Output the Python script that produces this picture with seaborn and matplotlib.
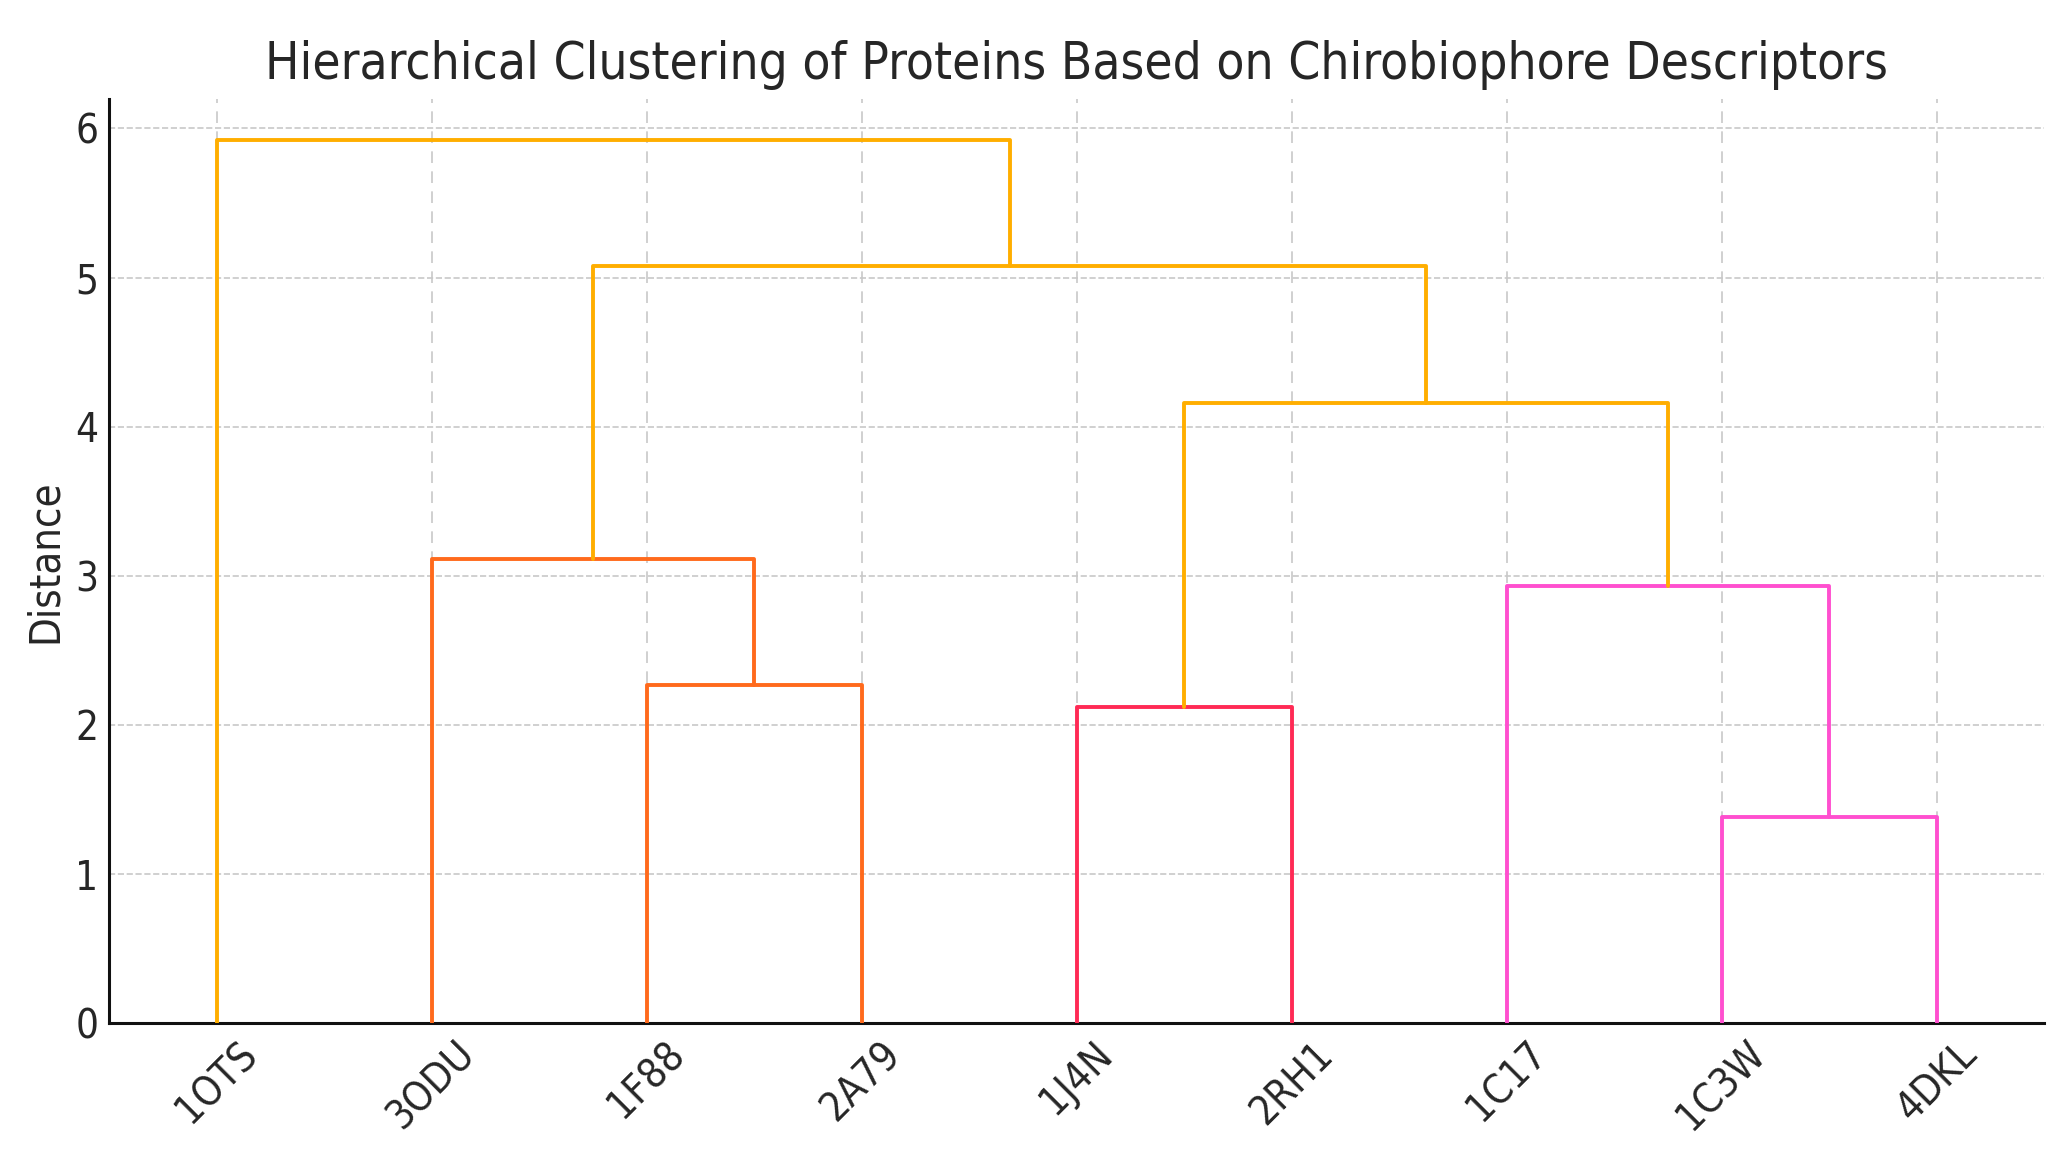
import numpy as np
import pandas as pd
import matplotlib
matplotlib.use("Agg")
import matplotlib.pyplot as plt
import seaborn as sns

# ---------------- data ----------------
labels = ["1OTS", "3ODU", "1F88", "2A79", "1J4N", "2RH1", "1C17", "1C3W", "4DKL"]
# linkage: (left node, right node, distance); leaves are 0..8, new nodes 9..16
merge_left = [7, 4, 2, 6, 1, 10, 13, 0]
merge_right = [8, 5, 3, 9, 11, 12, 14, 15]
merge_dist = [1.38, 2.12, 2.27, 2.93, 3.11, 4.16, 5.08, 5.92]
yticks = [0, 1, 2, 3, 4, 5, 6]

above_color = "#FFAE00"
cluster_colors = ["#FF6A1C", "#FF2A55", "#FF4FCF"]

title = "Hierarchical Clustering of Proteins Based on Chirobiophore Descriptors"
ylabel = "Distance"

# ---------------- style ----------------
sns.set_theme(style="white")
plt.rcParams["font.family"] = ["DejaVu Sans"]
plt.rcParams["font.stretch"] = "condensed"
text_color = "#262626"

fig = plt.figure(figsize=(20.65, 11.6), dpi=100)
ax = fig.add_axes([0.053, 0.118, 0.937, 0.797])

n = len(labels)
nodes = {}
for i in range(n):
    nodes[i] = {"children": None, "h": 0.0}
for k, (l, r, d) in enumerate(zip(merge_left, merge_right, merge_dist)):
    nodes[n + k] = {"children": (l, r), "h": d}
root = n + len(merge_dist) - 1

# leaf order (left to right)
order = []
def walk(node):
    ch = nodes[node]["children"]
    if ch is None:
        order.append(node)
    else:
        walk(ch[0]); walk(ch[1])
walk(root)
leaf_x = {leaf: 5 + 10 * i for i, leaf in enumerate(order)}

def xpos(node):
    ch = nodes[node]["children"]
    if ch is None:
        return leaf_x[node]
    return (xpos(ch[0]) + xpos(ch[1])) / 2.0

threshold = 0.7 * max(merge_dist)

# assign cluster colors to maximal sub-threshold subtrees left to right
node_color = {}
cidx = [0]
def color_walk(node, inherited=None):
    ch = nodes[node]["children"]
    if ch is None:
        return
    h = nodes[node]["h"]
    if inherited is None and h < threshold:
        inherited = cluster_colors[cidx[0] % len(cluster_colors)]
        cidx[0] += 1
    node_color[node] = inherited if inherited is not None else above_color
    color_walk(ch[0], inherited)
    color_walk(ch[1], inherited)
color_walk(root)

for node in sorted(node_color):
    l, r = nodes[node]["children"]
    h = nodes[node]["h"]
    xl, xr = xpos(l), xpos(r)
    df = pd.DataFrame({"x": [xl, xl, xr, xr],
                       "y": [nodes[l]["h"], h, h, nodes[r]["h"]]})
    sns.lineplot(data=df, x="x", y="y", sort=False, estimator=None,
                 color=node_color[node], lw=2.8, ax=ax, zorder=3)

ax.set_xlim(0, 10 * n)
ax.set_ylim(0, 6.2)
ax.set_xticks([leaf_x[l] for l in order])
ax.set_xticklabels([labels[l] for l in order], rotation=45, fontsize=29,
                   color=text_color)
ax.set_yticks(yticks)
ax.set_yticklabels([str(t) for t in yticks], fontsize=29, color=text_color)
ax.tick_params(axis="x", length=0, pad=8)
ax.tick_params(axis="y", direction="in", length=7, width=1.5, pad=8,
               color="#222222")
ax.set_xlabel("")
ax.set_ylabel(ylabel, fontsize=30, color=text_color, labelpad=7)
ax.set_title(title, fontsize=36.8, color=text_color, pad=14)

ax.xaxis.grid(True, linestyle=(0, (7, 5)), color="#c8c8c8", lw=1.2)
ax.yaxis.grid(True, linestyle="--", color="#c8c8c8", lw=1.2)
ax.set_axisbelow(True)

for s in ["top", "right"]:
    ax.spines[s].set_visible(False)
for s in ["left", "bottom"]:
    ax.spines[s].set_color("#111111")
    ax.spines[s].set_linewidth(2.2)

fig.savefig("out.png", dpi=100)
